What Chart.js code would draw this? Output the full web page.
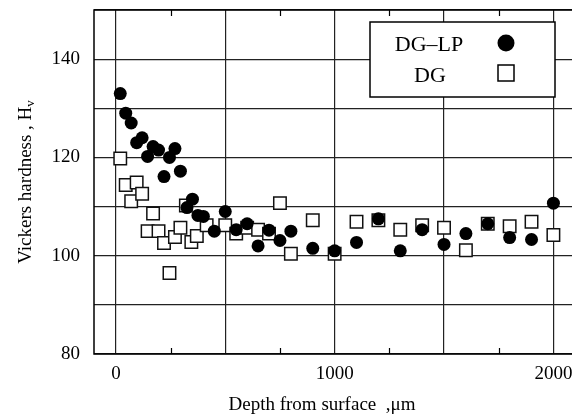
<!DOCTYPE html>
<html>
<head>
<meta charset="utf-8">
<script src="https://cdn.jsdelivr.net/npm/chart.js@4.4.1/dist/chart.umd.min.js"></script>
<style>
  body { margin: 0; background: #fff; }
  #wrap { width: 572px; height: 414px; }
</style>
</head>
<body>
<div id="wrap"><canvas id="hvChart" width="572" height="414"></canvas></div>
<script>
// Vickers hardness vs depth from surface
const depthLP = [20, 45, 70, 95, 120, 145, 170, 195, 220, 245, 270, 295, 325, 350, 375, 400, 450, 500, 550, 600, 650, 700, 750, 800, 900, 1000, 1100, 1200, 1300, 1400, 1500, 1600, 1700, 1800, 1900, 2000];
const hvLP = [133, 129, 127, 123, 124, 120.2, 122.2, 121.5, 116.1, 120, 121.8, 117.2, 109.8, 111.5, 108.2, 108, 105, 109, 105.3, 106.5, 102, 105.2, 103.1, 105, 101.5, 101, 102.7, 107.5, 101, 105.3, 102.3, 104.5, 106.5, 103.7, 103.3, 110.7];

const depthDG = [20, 45, 70, 95, 120, 145, 170, 195, 220, 245, 270, 295, 320, 345, 370, 415, 500, 550, 600, 650, 700, 750, 800, 900, 1000, 1100, 1200, 1300, 1400, 1500, 1600, 1700, 1800, 1900, 2000];
const hvDG = [119.8, 114.4, 111.1, 114.9, 112.6, 105, 108.6, 105, 102.6, 96.5, 103.8, 105.7, 110.2, 102.8, 104, 106.2, 106.2, 104.5, 105.7, 105.3, 104.5, 110.7, 100.4, 107.2, 100.4, 106.9, 107.2, 105.3, 106.2, 105.7, 101.1, 106.5, 106, 106.9, 104.2];

const xTicks = [0, 500, 1000, 1500, 2000];
const xLabels = [0, 1000, 2000];
const xMinor = [250, 750, 1250, 1750];
const yTicks = [80, 90, 100, 110, 120, 130, 140, 150];
const yLabels = [80, 100, 120, 140];

const seriesNames = ['DG\u2013LP', 'DG'];
const serif = "'Liberation Serif', 'Times New Roman', serif";

function toPoints(xs, ys) {
    return xs.map((x, i) => ({ x: x, y: ys[i] }));
}

// frame, inward minor ticks, axis titles and the boxed legend
const decorPlugin = {
    id: 'decor',
    afterDraw(chart) {
        const ctx = chart.ctx;
        const a = chart.chartArea;
        const xs = chart.scales.x;
        ctx.save();
        ctx.strokeStyle = '#000';
        ctx.lineWidth = 1.5;
        ctx.beginPath();
        ctx.moveTo(a.right + 2, a.top);
        ctx.lineTo(a.left, a.top);
        ctx.lineTo(a.left, a.bottom);
        ctx.lineTo(a.right + 2, a.bottom);
        ctx.stroke();

        ctx.lineWidth = 1.2;
        xMinor.forEach(v => {
            const px = Math.round(xs.getPixelForValue(v)) + 0.5;
            ctx.beginPath();
            ctx.moveTo(px, a.bottom);
            ctx.lineTo(px, a.bottom - 6);
            ctx.moveTo(px, a.top);
            ctx.lineTo(px, a.top + 6);
            ctx.stroke();
        });

        // y title with subscript v
        ctx.fillStyle = '#000';
        ctx.save();
        ctx.translate(26, (a.top + a.bottom) / 2);
        ctx.rotate(-Math.PI / 2);
        ctx.font = '19px ' + serif;
        const main = 'Vickers hardness , H';
        const w1 = ctx.measureText(main).width;
        ctx.font = '13px ' + serif;
        const w2 = ctx.measureText('v').width;
        ctx.textBaseline = 'middle';
        ctx.textAlign = 'left';
        ctx.font = '19px ' + serif;
        ctx.fillText(main, -(w1 + w2) / 2, 0);
        ctx.font = '13px ' + serif;
        ctx.fillText('v', -(w1 + w2) / 2 + w1, 5);
        ctx.restore();

        // x title
        ctx.font = '19px ' + serif;
        ctx.textAlign = 'center';
        ctx.textBaseline = 'alphabetic';
        ctx.fillText('Depth from surface  ,\u03bcm', 322, 410);

        // legend box
        ctx.fillStyle = '#fff';
        ctx.fillRect(370, 22, 185, 75);
        ctx.lineWidth = 1.5;
        ctx.strokeRect(370, 22, 185, 75);
        ctx.fillStyle = '#000';
        ctx.font = '22px ' + serif;
        ctx.textAlign = 'center';
        ctx.textBaseline = 'middle';
        ctx.fillText(seriesNames[0], 429, 45);
        ctx.fillText(seriesNames[1], 430, 76);
        ctx.beginPath();
        ctx.arc(506, 43, 8.5, 0, Math.PI * 2);
        ctx.fill();
        ctx.fillStyle = '#fff';
        ctx.fillRect(498, 65, 16, 16);
        ctx.strokeRect(498, 65, 16, 16);
        ctx.restore();
    }
};

const ctx = document.getElementById('hvChart').getContext('2d');
const hvChart = new Chart(ctx, {
    type: 'scatter',
    data: {
        datasets: [{
            label: seriesNames[0],
            data: toPoints(depthLP, hvLP),
            pointStyle: 'circle',
            pointRadius: 6.5,
            backgroundColor: '#000',
            borderColor: '#000',
            borderWidth: 0
        }, {
            label: seriesNames[1],
            data: toPoints(depthDG, hvDG),
            pointStyle: 'rect',
            pointRadius: 8.8,
            backgroundColor: '#fff',
            borderColor: '#111',
            borderWidth: 1.5
        }]
    },
    options: {
        responsive: false,
        animation: false,
        devicePixelRatio: 1,
        layout: { autoPadding: false, padding: { top: 10, right: 0, left: 0, bottom: 0 } },
        plugins: {
            legend: { display: false },
            tooltip: { enabled: false }
        },
        scales: {
            x: {
                type: 'linear',
                min: -100,
                max: 2085,
                afterBuildTicks: scale => { scale.ticks = xTicks.map(v => ({ value: v })); },
                afterFit: scale => {
                    scale.height = 60;
                    scale.paddingLeft = 0;
                    scale.paddingRight = 0;
                },
                grid: { color: '#222', lineWidth: 1.2, drawTicks: false },
                border: { display: false },
                ticks: {
                    padding: 9,
                    color: '#000',
                    font: { family: serif, size: 19 },
                    maxRotation: 0,
                    callback: v => xLabels.includes(v) ? String(v) : ''
                }
            },
            y: {
                type: 'linear',
                min: 80,
                max: 150,
                afterBuildTicks: scale => { scale.ticks = yTicks.map(v => ({ value: v })); },
                afterFit: scale => {
                    scale.width = 94;
                    scale.paddingTop = 0;
                    scale.paddingBottom = 0;
                },
                grid: { color: '#222', lineWidth: 1.2, drawTicks: false },
                border: { display: false },
                ticks: {
                    padding: 14,
                    color: '#000',
                    font: { family: serif, size: 19 },
                    callback: v => yLabels.includes(v) ? String(v) : ''
                }
            }
        }
    },
    plugins: [decorPlugin]
});
</script>
</body>
</html>
